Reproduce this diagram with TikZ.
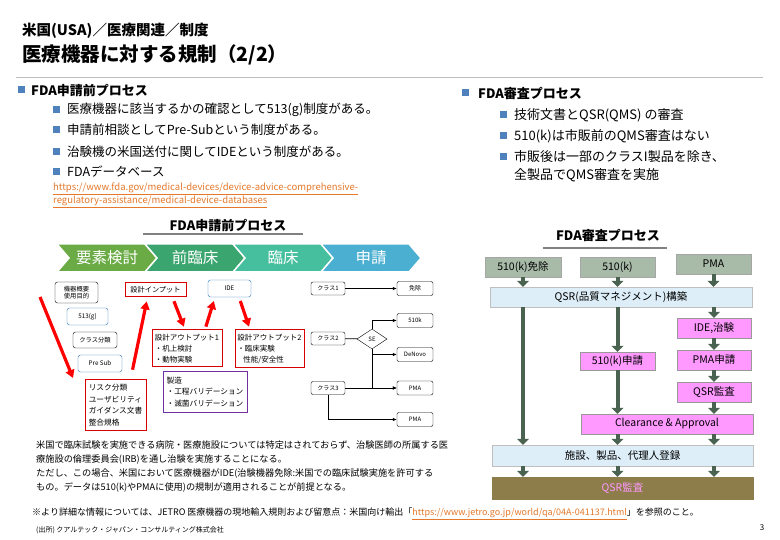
\documentclass[tikz,border=0pt]{standalone}
\usepackage{fontspec}
\setmainfont{Noto Sans CJK JP}
\usetikzlibrary{positioning,shapes.geometric,arrows.meta,calc}

\definecolor{bulletblue}{HTML}{4F81BD}
\definecolor{chevA}{HTML}{6AAB45}
\definecolor{chevB}{HTML}{3AA56E}
\definecolor{chevC}{HTML}{45BF9E}
\definecolor{chevD}{HTML}{4AAFD0}
\definecolor{linkorange}{HTML}{E5782A}
\definecolor{boxblue}{HTML}{2E75B6}
\definecolor{mfgpurple}{HTML}{7030A0}
\definecolor{topgray}{HTML}{A8BAA8}
\definecolor{bandblue}{HTML}{DDEEF8}
\definecolor{pinkbox}{HTML}{FF99FF}
\definecolor{auditolive}{HTML}{8C7D4B}
\definecolor{arrowgreen}{HTML}{4A6350}

\tikzset{
  bodytext/.style={anchor=west, inner sep=0pt, font=\fontsize{12.5}{14}\selectfont},
  chevtext/.style={text=white, font=\fontsize{15.5}{17}\selectfont},
  tinybox/.style={draw, rounded corners=2.5pt, inner sep=1pt, align=center,
    font=\fontsize{6.3}{7.5}\selectfont},
  idebox/.style={tinybox, draw=boxblue},
  redbox/.style={draw=red!85!black, line width=1pt, inner sep=1pt, align=left,
    font=\fontsize{7.7}{11.5}\selectfont},
  redarrow/.style={draw=red, line width=3.2pt, -{Triangle[width=9pt,length=8pt]}},
  classbox/.style={draw, rounded corners=2pt, minimum width=34pt, minimum height=13pt,
    inner sep=0pt, font=\fontsize{6}{7}\selectfont},
  resultbox/.style={classbox, minimum width=36pt, minimum height=14pt},
  thinarrow/.style={draw, line width=0.8pt, -{Latex[length=4pt,width=3.5pt]}},
  stepgray/.style={fill=topgray, draw=gray!70, minimum width=75pt, minimum height=20pt,
    inner sep=0pt, font=\fontsize{10.5}{12}\selectfont},
  steppink/.style={stepgray, fill=pinkbox, draw=gray!80},
  stepband/.style={stepgray, fill=bandblue, draw=gray!50},
  fatarrow/.style={draw=arrowgreen, line width=4pt, -{Triangle[width=12pt,length=6pt]}}
}

\begin{document}
\begin{tikzpicture}[x=1pt,y=-1pt]
  \useasboundingbox (0,0) rectangle (780,540);
  \fill[white] (0,0) rectangle (780,540);

  % Header
  \node[anchor=west, inner sep=0pt, font=\bfseries\fontsize{14.5}{16}\selectfont] (crumb) at (22,31) {米国(USA)／医療関連／制度};
  \node[anchor=west, inner sep=0pt, font=\bfseries\fontsize{19.5}{22}\selectfont] (title) at (22,55) {医療機器に対する規制（2/2）};
  \draw[gray!50, line width=1pt] (16,78) -- (763,78);

  % Left bullets
  \fill[bulletblue] (18,86.5) rectangle ++(7,7);
  \node[bodytext, font=\bfseries\fontsize{13}{14}\selectfont] (lhead) at (31,90) {FDA申請前プロセス};
  \foreach \y/\txt [count=\i] in {110/医療機器に該当するかの確認として513(g)制度がある。,
      130/申請前相談としてPre-Subという制度がある。,
      152/治験機の米国送付に関してIDEという制度がある。,
      172/FDAデータベース} {
    \fill[bulletblue] (53,\y-3.5) rectangle ++(7,7);
    \node[bodytext] (lb\i) at (67,\y) {\txt};
  }
  \node[anchor=north west, inner sep=0pt, align=left, text=linkorange,
    font=\fontsize{9.5}{12.5}\selectfont] (fdaurl) at (53,183)
    {\underline{https://www.fda.gov/medical-devices/device-advice-comprehensive-}\\
     \underline{regulatory-assistance/medical-device-databases}};

  % Right bullets
  \fill[bulletblue] (462,89.5) rectangle ++(7,7);
  \node[bodytext, font=\bfseries\fontsize{13}{14}\selectfont] (rhead) at (478,93) {FDA審査プロセス};
  \foreach \y/\txt [count=\i] in {115/技術文書とQSR(QMS) の審査,
      136/510(k)は市販前のQMS審査はない,
      157/市販後は一部のクラスI製品を除き、} {
    \fill[bulletblue] (500,\y-3.5) rectangle ++(7,7);
    \node[bodytext, font=\fontsize{13}{14}\selectfont] (rb\i) at (514,\y) {\txt};
  }
  \node[bodytext, font=\fontsize{13}{14}\selectfont] (rb4) at (514,175) {全製品でQMS審査を実施};

  % Pre-submission process
  \node[font=\bfseries\fontsize{13}{15}\selectfont, inner sep=0pt] (ltitle) at (228,225) {FDA申請前プロセス};
  \draw[gray, line width=1.5pt] (143,234) -- (303,234);
  \foreach \i/\lab/\col in {0/要素検討/chevA, 1/前臨床/chevB, 2/臨床/chevC, 3/申請/chevD} {
    \pgfmathsetmacro\a{57+88*\i}
    \draw[fill=\col, draw=white, line width=1.5pt] (\a,244) -- ++(88,0) -- ++(12,14)
      -- ++(-12,14) -- ++(-88,0) -- ++(12,-14) -- cycle;
    \node[chevtext] (chev\i) at (\a+50,258) {\lab};
  }

  \node[tinybox, minimum width=43pt, minimum height=21pt] (outline) at (76.5,292.5) {機器概要\\使用目的};
  \node[idebox, minimum width=41pt, minimum height=17pt] (g513) at (87.5,316.5) {513(g)};
  \node[tinybox, minimum width=44pt, minimum height=16pt] (classify) at (95,340) {クラス分類};
  \node[idebox, minimum width=44pt, minimum height=17pt] (presub) at (100,363.5) {Pre Sub};
  \node[redbox, minimum width=61pt, minimum height=50pt] (risk) at (115.5,405)
    {リスク分類\\ユーザビリティ\\ガイダンス文書\\整合規格};
  \node[redbox, minimum width=61pt, minimum height=14pt, font=\fontsize{7.2}{8}\selectfont] (input) at (155.5,290) {設計インプット};
  \node[idebox, minimum width=43pt, minimum height=17pt] (ide) at (229.5,288.5) {IDE};
  \node[redbox, minimum width=70pt, minimum height=37pt, font=\fontsize{7.5}{11}\selectfont] (out1) at (187,348.5)
    {設計アウトプット1\\・机上検討\\・動物実験};
  \node[redbox, minimum width=69pt, minimum height=38pt, font=\fontsize{7.5}{11}\selectfont] (out2) at (269.5,349)
    {設計アウトプット2\\・臨床実験\\\hspace{6pt}性能/安全性};
  \node[redbox, draw=mfgpurple, minimum width=84pt, minimum height=40pt] (mfg) at (205,392)
    {製造\\・工程バリデーション\\・滅菌バリデーション};

  \coordinate (riskfrom) at (40,297);
  \coordinate (riskto) at (73,378);
  \draw[redarrow] (riskfrom) -- (riskto);
  \draw[redarrow, shorten <=10pt, shorten >=4pt] ([xshift=15pt]risk.north) -- ([xshift=-8pt]input.south);
  \draw[redarrow, shorten <=4pt, shorten >=3pt] ([xshift=17pt]input.south) -- ([xshift=-2pt]out1.north);
  \draw[redarrow, shorten <=3pt, shorten >=4pt] ([xshift=18pt]out1.north) -- ([xshift=-14.5pt]ide.south);
  \draw[redarrow, shorten <=4pt, shorten >=3pt] ([xshift=9.5pt]ide.south) -- ([xshift=-19.5pt]out2.north);

  % Class routes
  \node[classbox] (c1) at (328,288.5) {クラス1};
  \node[classbox] (c2) at (328,338.5) {クラス2};
  \node[classbox] (c3) at (328,388) {クラス3};
  \node[diamond, draw, minimum width=30pt, minimum height=20pt, inner sep=0pt,
    font=\fontsize{6}{7}\selectfont] (se) at (372,339) {SE};
  \node[resultbox] (exempt) at (415,288.5) {免除};
  \node[resultbox] (k510) at (415,320.5) {510k};
  \node[resultbox] (denovo) at (415,354.5) {DeNovo};
  \node[resultbox] (pma1) at (415,388) {PMA};
  \node[resultbox] (pma2) at (415,419.5) {PMA};

  \draw[thinarrow] (c1) -- (exempt);
  \draw[line width=0.8pt] (c2) -- (se);
  \draw[thinarrow] (se.north) |- (k510);
  \draw[thinarrow] (se.south) |- (denovo);
  \draw[thinarrow] (se.south) |- (pma1);
  \draw[thinarrow] (c3) -- (pma1);
  \draw[thinarrow] (c3.south) |- (pma2);

  \node[anchor=north west, inner sep=0pt, align=left, font=\fontsize{9.2}{14}\selectfont] (note) at (36,441)
    {米国で臨床試験を実施できる病院・医療施設については特定はされておらず、治験医師の所属する医\\
     療施設の倫理委員会(IRB)を通し治験を実施することになる。\\
     ただし、この場合、米国において医療機器がIDE(治験機器免除:米国での臨床試験実施を許可する\\
     もの。データは510(k)やPMAに使用)の規制が適用されることが前提となる。};

  % Review process
  \node[font=\bfseries\fontsize{13}{15}\selectfont, inner sep=0pt] (rtitle) at (608,235) {FDA審査プロセス};
  \draw[gray, line width=1.5pt] (543,248) -- (667,248);

  \node[stepgray, minimum width=76pt] (ex510) at (523,267) {510(k)免除};
  \node[stepgray] (k510r) at (617.5,267) {510(k)};
  \node[stepgray] (pma) at (713.5,264) {PMA};
  \node[stepband, minimum width=262pt] (qsr) at (621,297) {QSR(品質マネジメント)構築};
  \node[steppink, minimum width=74pt] (ide2) at (714,328) {IDE,治験};
  \node[steppink, minimum height=18pt] (app510) at (617.5,361) {510(k)申請};
  \node[steppink, minimum width=74pt] (pmaapp) at (714,360) {PMA申請};
  \node[steppink, minimum width=74pt] (qsraud) at (714,392) {QSR監査};
  \node[steppink, minimum width=172pt] (clear) at (667,424) {Clearance \& Approval};
  \node[stepband, minimum width=261pt, minimum height=21pt] (reg) at (622.5,455.5) {施設、製品、代理人登録};
  \node[stepgray, fill=auditolive, draw=auditolive, text=pinkbox, minimum width=261pt, minimum height=22pt] (final) at (622.5,488) {QSR監査};

  \draw[fatarrow] (ex510.south) -- (ex510.south |- qsr.north);
  \draw[fatarrow] (k510r.south) -- (k510r.south |- qsr.north);
  \draw[fatarrow] (pma.south) -- (pma.south |- qsr.north);
  \draw[fatarrow] (qsr.south -| ex510) -- (reg.north -| ex510);
  \draw[fatarrow] (qsr.south -| k510r) -- (app510.north);
  \draw[fatarrow] (qsr.south -| ide2) -- (ide2.north);
  \draw[fatarrow] (ide2) -- (pmaapp);
  \draw[fatarrow] (pmaapp) -- (qsraud);
  \draw[fatarrow] (app510.south) -- (app510.south |- clear.north);
  \draw[fatarrow] (qsraud.south) -- (qsraud.south |- clear.north);
  \draw[fatarrow] (clear.south -| k510r) -- (reg.north -| k510r);
  \draw[fatarrow] (clear.south -| ide2) -- (reg.north -| ide2);
  \foreach \n in {ex510,k510r,ide2}
    \draw[fatarrow] (reg.south -| \n) -- (final.north -| \n);

  % Footer
  \node[anchor=west, inner sep=0pt, font=\fontsize{9}{10}\selectfont] (more) at (32,514)
    {※より詳細な情報については、JETRO 医療機器の現地輸入規則および留意点：米国向け輸出「\textcolor{linkorange}{\underline{https://www.jetro.go.jp/world/qa/04A-041137.html}}」を参照のこと。};
  \node[anchor=west, inner sep=0pt, font=\fontsize{7}{8}\selectfont] (source) at (36,530)
    {(出所) クアルテック・ジャパン・コンサルティング株式会社};
  \node[inner sep=0pt, font=\fontsize{8}{9}\selectfont] (page) at (762,528) {3};
\end{tikzpicture}
\end{document}
